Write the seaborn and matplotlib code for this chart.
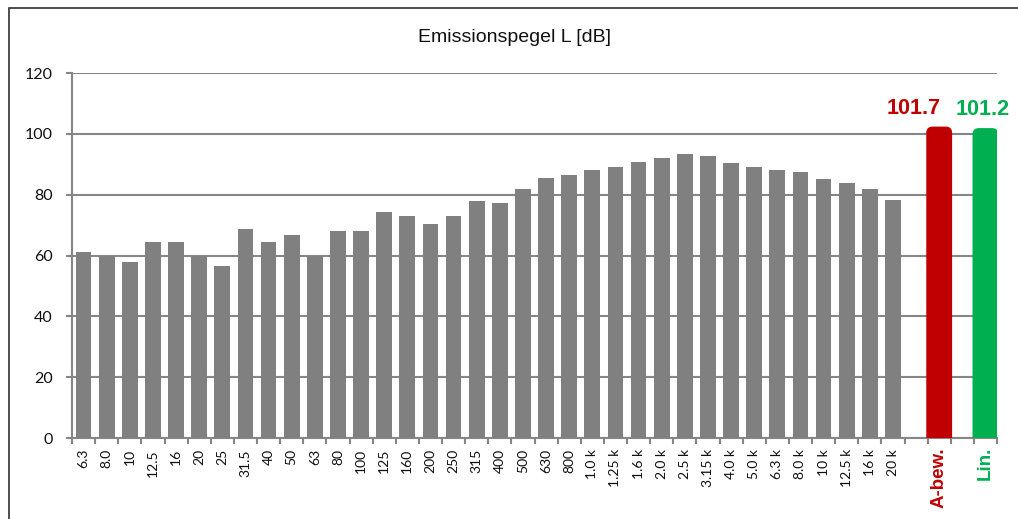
import numpy as np
import pandas as pd
import seaborn as sns
import matplotlib
matplotlib.use("Agg")
import matplotlib.pyplot as plt
from matplotlib.patches import FancyBboxPatch, Rectangle
from matplotlib.ticker import FixedLocator

# ---- data ----
freq_labels = ["6.3", "8.0", "10", "12.5", "16", "20", "25", "31.5", "40", "50",
               "63", "80", "100", "125", "160", "200", "250", "315", "400", "500",
               "630", "800", "1.0 k", "1.25 k", "1.6 k", "2.0 k", "2.5 k", "3.15 k",
               "4.0 k", "5.0 k", "6.3 k", "8.0 k", "10 k", "12.5 k", "16 k", "20 k"]
freq_values = [61.0, 60.0, 57.9, 64.4, 64.4, 60.0, 56.5, 68.8, 64.4, 66.6,
               60.0, 67.9, 67.9, 74.3, 73.0, 70.3, 73.0, 77.8, 77.4, 81.7,
               85.6, 86.6, 88.1, 89.1, 90.6, 92.2, 93.5, 92.6, 90.3, 89.1,
               88.1, 87.4, 85.2, 84.0, 81.7, 78.3]
sum_labels = ["A-bew.", "Lin."]
sum_values = [101.7, 101.2]
title = "Emissionspegel L [dB]"

GREY = "#808080"
RED = "#C00000"
GREEN = "#00B050"

# category order with blank slots
order = freq_labels + ["_b1", "A-bew.", "_b2", "Lin."]
tick_text = freq_labels + ["", "", "", ""]

df = pd.DataFrame({
    "band": freq_labels + sum_labels,
    "level": freq_values + sum_values,
})
palette = {b: GREY for b in freq_labels}
palette["A-bew."] = RED
palette["Lin."] = GREEN
palette["_b1"] = GREY
palette["_b2"] = GREY

sns.set_theme(style="white")
plt.rcParams["font.family"] = ["Lato", "DejaVu Sans"]

W, H = 1018, 519
fig = plt.figure(figsize=(W / 100, H / 100), dpi=100)
ax = fig.add_axes([72 / W, 1 - 438 / H, (997 - 72) / W, (438 - 73) / H])

sns.barplot(data=df, x="band", y="level", hue="band", order=order,
            hue_order=order, palette=palette, legend=False, width=0.68,
            errorbar=None, ax=ax, saturation=1, linewidth=0, zorder=3)

# widen and round the two summary bars
sum_pos = {order.index(s): (s, v) for s, v in zip(sum_labels, sum_values)}
px_x = (997 - 72) / len(order)
px_y = (438 - 73) / 120.0
for p in list(ax.patches):
    cx = p.get_x() + p.get_width() / 2
    idx = int(round(cx))
    if idx in sum_pos:
        col = p.get_facecolor()
        h = p.get_height()
        p.remove()
        w = 1.11 - 4.0 / px_x
        r = 4.0 / px_x
        fb = FancyBboxPatch((idx - w / 2, -5), w, h + 5,
                            boxstyle=f"round,pad=0,rounding_size={r}",
                            mutation_aspect=px_x / px_y,
                            fc=col, ec=col, lw=3.0, joinstyle="round",
                            zorder=3, clip_on=True)
        ax.add_patch(fb)

ax.set_xlim(-0.5, len(order) - 0.5)
ax.set_ylim(0, 120)
ax.set_yticks(np.arange(0, 121, 20))
ax.grid(axis="y", color="#868686", lw=1.5, zorder=0)
ax.grid(axis="x", visible=False)

ax.set_xticks(range(len(order)))
ax.set_xticklabels(tick_text, rotation=90, fontsize=10, color="#101010",
                   va="top", ha="center")
ax.xaxis.set_minor_locator(FixedLocator(np.arange(-0.5, len(order), 1.0)))
ax.tick_params(axis="x", which="major", length=0, pad=8)
ax.tick_params(axis="x", which="minor", length=4, width=1.5, color="#868686",
               direction="out", bottom=True)
ax.tick_params(axis="y", which="major", length=4, width=1.5, color="#868686",
               direction="out", left=True, pad=10, labelsize=11.5,
               labelcolor="#101010")

for s in ["top", "right"]:
    ax.spines[s].set_visible(False)
for s in ["left", "bottom"]:
    ax.spines[s].set_color("#868686")
    ax.spines[s].set_linewidth(1.5)
ax.set_xlabel("")
ax.set_ylabel("")

# coloured category labels for the summary bars
for idx, (s, v) in sum_pos.items():
    col = RED if s == "A-bew." else GREEN
    ax.annotate(s, xy=(idx, 0), xycoords=("data", "axes fraction"),
                xytext=(0, -6.5), textcoords="offset points",
                rotation=90, ha="center", va="top", color=col,
                fontsize=13.5, fontweight="bold", family="Liberation Sans")

# value labels
offsets = {"A-bew.": -18, "Lin.": -2}
for idx, (s, v) in sum_pos.items():
    col = RED if s == "A-bew." else GREEN
    ax.annotate(f"{v}", xy=(idx, v), xytext=(offsets[s], 7),
                textcoords="offset points", ha="center", va="bottom",
                color=col, fontsize=15.5, fontweight="bold",
                family="Liberation Sans")

fig.text(514 / W, 1 - 38 / H, title, ha="center", va="center",
         fontsize=14, family="Liberation Sans", color="#101010")

# outer chart frame (only top and left edges visible in image)
fig.add_artist(Rectangle((9 / W, -0.5), 2, (1 - 8 / H) + 0.5,
                         transform=fig.transFigure, fill=False,
                         ec="#303030", lw=1.2))

fig.savefig("out.png", dpi=100)
